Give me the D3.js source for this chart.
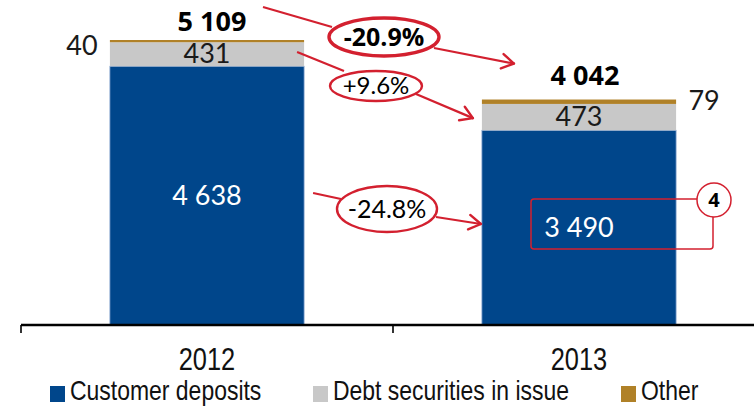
<!DOCTYPE html>
<html>
<head>
<meta charset="utf-8">
<script src="https://cdn.jsdelivr.net/npm/d3@7"></script>
<style>
  html, body { margin: 0; padding: 0; background: #fff; }
  svg { display: block; }
</style>
</head>
<body>
<div id="chart"></div>
<script>
const years = ['2012', '2013'];
const series = ['Customer deposits', 'Debt securities in issue', 'Other'];
const customerDeposits = [4638, 3490];
const debtSecurities = [431, 473];
const other = [40, 79];
const totals = [5109, 4042];
const changes = ['-24.8%', '+9.6%', '-20.9%'];

const COLORS = ['#00468b', '#c8c8c8', '#b08128'];
const RED = '#d3202f';
const width = 754;
const height = 406;
const baseY = 325;
// narrow look: regular sans squeezed horizontally
const NARROW = 'scale(0.82,1)';
const narrowFont = '"Liberation Sans", Arial, sans-serif';

const svg = d3.select('#chart').append('svg')
  .attr('width', width)
  .attr('height', height);

// stack the three series per year
const rows = years.map((y, i) => ({
  year: y,
  'Customer deposits': customerDeposits[i],
  'Debt securities in issue': debtSecurities[i],
  'Other': other[i]
}));
const stacked = d3.stack().keys(series)(rows);

const x = d3.scaleBand()
  .domain(years)
  .range([21, 765])
  .padding(0);
const barW = x.bandwidth() * 0.522;
const cx = (yr) => x(yr) + x.bandwidth() / 2;

const y = d3.scaleLinear()
  .domain([0, d3.max(totals)])
  .range([baseY, 40]);

// bars
svg.append('g')
  .selectAll('g')
  .data(stacked)
  .enter().append('g')
    .attr('fill', (d, i) => COLORS[i])
  .selectAll('rect')
  .data((d) => d)
  .enter().append('rect')
    .attr('x', (d) => cx(d.data.year) - barW / 2)
    .attr('y', (d) => y(d[1]))
    .attr('width', barW)
    .attr('height', (d) => y(d[0]) - y(d[1]))
    .attr('stroke', (d, i, n) => d3.select(n[i].parentNode).datum().key == 'Customer deposits' ? '#8aa8d2' : 'none')
    .attr('stroke-width', 0.8);

// axis
const axisG = svg.append('g').attr('transform', `translate(0,${baseY})`);
axisG.append('line')
  .attr('x1', x.range()[0]).attr('x2', width)
  .attr('y1', 0).attr('y2', 0)
  .attr('stroke', '#000').attr('stroke-width', 2.6);
axisG.selectAll('.edge')
  .data(years)
  .enter().append('line')
    .attr('x1', (d) => x(d)).attr('x2', (d) => x(d))
    .attr('y1', 0).attr('y2', 8)
    .attr('stroke', '#000').attr('stroke-width', 1.6);
const xAxis = d3.axisBottom(x).tickSize(0).tickPadding(0);
const labelsG = svg.append('g')
  .attr('transform', `translate(0,${baseY})`)
  .call(xAxis);
labelsG.select('.domain').remove();
labelsG.selectAll('.tick text')
  .attr('dy', 0)
  .attr('y', 0)
  .attr('transform', `translate(0,45) ${NARROW}`)
  .attr('fill', '#111')
  .style('font-family', narrowFont)
  .style('font-size', '31px');

// value labels
const numFont = 'Lato, "Open Sans", sans-serif';
const boldFont = '"Open Sans", "DejaVu Sans", sans-serif';

svg.append('g').selectAll('text')
  .data(years)
  .enter().append('text')
    .attr('x', (d) => cx(d))
    .attr('y', (d, i) => y(customerDeposits[i] / 2) + 9)
    .attr('text-anchor', 'middle')
    .attr('fill', '#fff')
    .style('font-family', numFont)
    .style('font-size', '27px')
    .text((d, i) => d3.format(',')(customerDeposits[i]).replace(',', ' '));

svg.append('g').selectAll('text')
  .data(years)
  .enter().append('text')
    .attr('x', (d) => cx(d))
    .attr('y', (d, i) => y(customerDeposits[i] + debtSecurities[i] / 2) + 9)
    .attr('text-anchor', 'middle')
    .attr('fill', '#1a1a1a')
    .style('font-family', numFont)
    .style('font-size', '27px')
    .text((d, i) => debtSecurities[i]);

// "Other" labels sit beside the bar: left for 2012, right for 2013
svg.append('g').selectAll('text')
  .data(years)
  .enter().append('text')
    .attr('x', (d, i) => i == 0 ? cx(d) - barW / 2 - 28 : cx(d) + barW / 2 + 28)
    .attr('y', (d, i) => y(totals[i]) + (i == 0 ? 15 : 10))
    .attr('text-anchor', 'middle')
    .attr('fill', '#1a1a1a')
    .style('font-family', numFont)
    .style('font-size', '27px')
    .text((d, i) => other[i]);

svg.append('g').selectAll('text')
  .data(years)
  .enter().append('text')
    .attr('x', (d, i) => cx(d) + (i == 0 ? 5 : 6))
    .attr('y', (d, i) => y(totals[i]) - (i == 0 ? 9 : 15))
    .attr('text-anchor', 'middle')
    .attr('fill', '#000')
    .style('font-family', boldFont)
    .style('font-weight', 'bold')
    .style('font-size', '27px')
    .text((d, i) => d3.format(',')(totals[i]).replace(',', ' '));

// change callouts
const x0 = cx(years[0]) + barW / 2;
const x1 = cx(years[1]) - barW / 2;
const callouts = [
  { text: changes[2], cx: 384, cy: 37, rx: 55, ry: 19, bold: true, sw: 3.4, size: 25,
    from: [263, 7], into: [332, 27], out: [434, 48], to: [x1 + 32, y(totals[1]) - 36] },
  { text: changes[1], cx: 376, cy: 86, rx: 46, ry: 15, bold: false, sw: 2.4, size: 24,
    from: [x0 - 7, 52], into: [344, 71], out: [416, 94], to: [x1 - 9, y(customerDeposits[1] + debtSecurities[1] / 2) + 1] },
  { text: changes[0], cx: 387, cy: 209, rx: 50, ry: 23, bold: false, sw: 2.4, size: 25,
    from: [x0 + 9, 193], into: [341, 199], out: [436, 217], to: [x1 - 1, 224] }
];

function arrowHead(g, from, to) {
  const ang = Math.atan2(to[1] - from[1], to[0] - from[0]);
  const len = 14;
  [-0.55, 0.55].forEach((a) => {
    g.append('line')
      .attr('x1', to[0]).attr('y1', to[1])
      .attr('x2', to[0] - len * Math.cos(ang + a))
      .attr('y2', to[1] - len * Math.sin(ang + a))
      .attr('stroke', RED).attr('stroke-width', 2.4)
      .attr('stroke-linecap', 'round');
  });
}

callouts.forEach((c) => {
  const g = svg.append('g');
  g.append('line')
    .attr('x1', c.from[0]).attr('y1', c.from[1])
    .attr('x2', c.into[0]).attr('y2', c.into[1])
    .attr('stroke', RED).attr('stroke-width', 2.2);
  g.append('line')
    .attr('x1', c.out[0]).attr('y1', c.out[1])
    .attr('x2', c.to[0]).attr('y2', c.to[1])
    .attr('stroke', RED).attr('stroke-width', 2.2);
  arrowHead(g, c.out, c.to);
  g.append('ellipse')
    .attr('cx', c.cx).attr('cy', c.cy)
    .attr('rx', c.rx).attr('ry', c.ry)
    .attr('fill', '#fff')
    .attr('stroke', RED).attr('stroke-width', c.sw);
  g.append('text')
    .attr('x', c.cx).attr('y', c.cy + c.size * 0.35)
    .attr('text-anchor', 'middle')
    .attr('fill', '#000')
    .style('font-family', c.bold ? boldFont : numFont)
    .style('font-weight', c.bold ? 'bold' : 'normal')
    .style('font-size', c.size + 'px')
    .text(c.text);
});

// footnote box around 3 490
const noteG = svg.append('g');
noteG.append('rect')
  .attr('x', cx(years[1]) - 48).attr('y', 199)
  .attr('width', 182).attr('height', 50)
  .attr('rx', 3)
  .attr('fill', 'none')
  .attr('stroke', RED).attr('stroke-width', 1.5);
noteG.append('circle')
  .attr('cx', cx(years[1]) + 135).attr('cy', 200)
  .attr('r', 17)
  .attr('fill', '#fff')
  .attr('stroke', RED).attr('stroke-width', 1.5);
noteG.append('text')
  .attr('x', cx(years[1]) + 135).attr('y', 207)
  .attr('text-anchor', 'middle')
  .attr('fill', '#000')
  .style('font-family', boldFont)
  .style('font-weight', 'bold')
  .style('font-size', '20px')
  .text('4');

// legend
const legendX = [50, 313, 621];
const legend = svg.append('g').selectAll('g')
  .data(series)
  .enter().append('g')
    .attr('transform', (d, i) => `translate(${legendX[i]},0)`);
legend.append('rect')
  .attr('x', 0).attr('y', 386)
  .attr('width', 15).attr('height', 16)
  .attr('fill', (d, i) => COLORS[i]);
legend.append('text')
  .attr('transform', `translate(20,400) ${NARROW}`)
  .attr('fill', '#111')
  .style('font-family', narrowFont)
  .style('font-size', '28px')
  .text((d) => d);
</script>
</body>
</html>
